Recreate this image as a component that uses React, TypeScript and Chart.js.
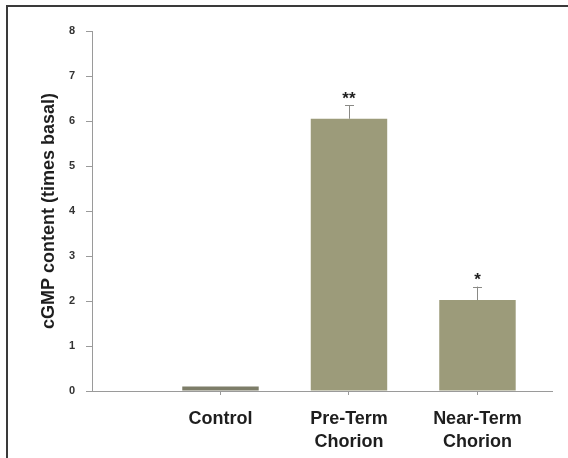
import React, { useEffect, useRef } from "react";
import { Chart, registerables } from "chart.js";

Chart.register(...registerables);

const categories: string[][] = [["Control"], ["Pre-Term", "Chorion"], ["Near-Term", "Chorion"]];
const positions: number[] = [1, 2, 3];
const values: number[] = [0.1, 6.05, 2.02];
const errors: number[] = [0, 0.3, 0.3];
const marks: string[] = ["", "**", "*"];
const yTicks: number[] = [0, 1, 2, 3, 4, 5, 6, 7, 8];

const FONT = "'Liberation Sans', Arial, Helvetica, sans-serif";

const errorPlugin = {
  id: "errorBarsAndMarks",
  afterDatasetsDraw(chart: any) {
    const { ctx, scales } = chart;
    const xs = scales.x;
    const ys = scales.y;
    ctx.save();
    for (let i = 0; i < values.length; i++) {
      const px = xs.getPixelForValue(positions[i]);
      const top = ys.getPixelForValue(values[i]);
      const errTop = ys.getPixelForValue(values[i] + errors[i]);
      if (errors[i] > 0) {
        ctx.strokeStyle = "#8a8a86";
        ctx.lineWidth = 1;
        ctx.beginPath();
        ctx.moveTo(Math.round(px) + 0.5, top);
        ctx.lineTo(Math.round(px) + 0.5, errTop);
        ctx.moveTo(Math.round(px) - 4, Math.round(errTop) + 0.5);
        ctx.lineTo(Math.round(px) + 5, Math.round(errTop) + 0.5);
        ctx.stroke();
      }
      if (marks[i]) {
        ctx.fillStyle = "#1e1e1e";
        ctx.font = `bold 17px ${FONT}`;
        ctx.textAlign = "center";
        ctx.textBaseline = "middle";
        ctx.fillText(marks[i], px, errTop - 6);
      }
    }
    ctx.restore();
  },
};

export default function App() {
  const canvasRef = useRef<HTMLCanvasElement | null>(null);

  useEffect(() => {
    if (!canvasRef.current) return;
    const chart = new Chart(canvasRef.current, {
      type: "bar",
      data: {
        datasets: [
          {
            data: positions.map((p, i) => ({ x: p, y: values[i] })),
            backgroundColor: ["#7d7d68", "#9c9b7a", "#9c9b7a"],
            borderWidth: 0,
            categoryPercentage: 1,
            barPercentage: 0.595,
          },
        ],
      },
      options: {
        animation: false,
        responsive: true,
        maintainAspectRatio: false,
        layout: { padding: { top: 31, right: 16, left: 0, bottom: 0 } },
        plugins: {
          legend: { display: false },
          tooltip: { enabled: false },
        },
        scales: {
          x: {
            type: "linear",
            min: 0,
            max: 3.58,
            offset: false,
            afterBuildTicks: (scale: any) => {
              scale.ticks = positions.map((v) => ({ value: v }));
            },
            afterFit: (scale: any) => {
              scale.height = 67;
            },
            grid: {
              offset: false,
              drawOnChartArea: false,
              drawTicks: true,
              tickLength: 4,
              color: "#9a9a9a",
            },
            border: { display: true, color: "#9a9a9a", width: 1 },
            ticks: {
              autoSkip: false,
              maxRotation: 0,
              padding: 13,
              color: "#1e1e1e",
              font: { family: FONT, size: 18, weight: "bold", lineHeight: 1.25 },
              callback: (value: any) => {
                const idx = positions.indexOf(Number(value));
                return idx >= 0 ? categories[idx] : "";
              },
            },
          },
          y: {
            type: "linear",
            min: 0,
            max: 8,
            afterBuildTicks: (scale: any) => {
              scale.ticks = yTicks.map((v) => ({ value: v }));
            },
            afterFit: (scale: any) => {
              scale.width = 92;
            },
            grid: {
              drawOnChartArea: false,
              drawTicks: true,
              tickLength: 6,
              color: "#9a9a9a",
            },
            border: { display: true, color: "#9a9a9a", width: 1 },
            ticks: {
              padding: 11,
              color: "#333333",
              font: { family: FONT, size: 11, weight: "bold" },
            },
            title: {
              display: true,
              text: "cGMP content (times basal)",
              color: "#1e1e1e",
              font: { family: FONT, size: 18, weight: "bold", lineHeight: 1.2 },
              padding: { top: 38, bottom: 0 },
            },
          },
        },
      },
      plugins: [errorPlugin],
    });
    return () => chart.destroy();
  }, []);

  return (
    <div style={{ position: "fixed", left: 0, top: 0, width: 568, height: 458, overflow: "hidden", background: "#ffffff" }}>
      <div
        style={{
          position: "absolute",
          left: 6,
          top: 5,
          width: 620,
          height: 520,
          border: "2px solid #3a3a3a",
          boxSizing: "border-box",
        }}
      />
      <div style={{ position: "absolute", left: 0, top: 0, width: 568, height: 458 }}>
        <canvas ref={canvasRef} />
      </div>
    </div>
  );
}
